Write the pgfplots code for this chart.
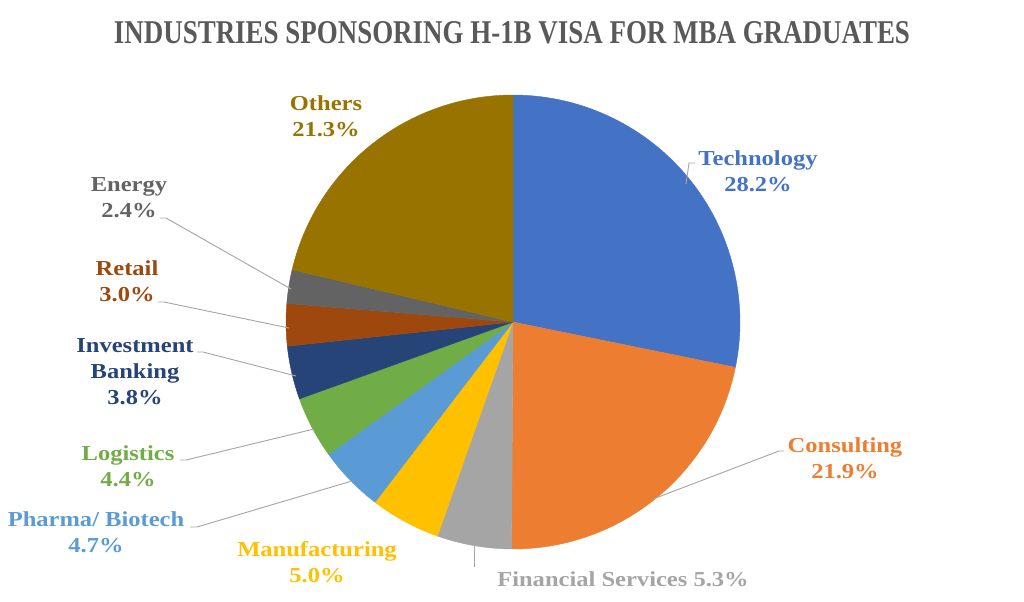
\documentclass[border=0pt]{standalone}
\usepackage{pgfplots}
\pgfplotsset{compat=1.18}
\usepackage{pgfplotstable}
\usepackage{fontspec}
\setmainfont[FakeStretch=1.15]{Liberation Serif}
\definecolor{cTech}{HTML}{4472C4}
\definecolor{cCons}{HTML}{ED7D31}
\definecolor{cFin}{HTML}{A5A5A5}
\definecolor{cMan}{HTML}{FFC000}
\definecolor{cPha}{HTML}{5B9BD5}
\definecolor{cLog}{HTML}{70AD47}
\definecolor{cInv}{HTML}{264478}
\definecolor{cRet}{HTML}{9E480E}
\definecolor{cEne}{HTML}{636363}
\definecolor{cOth}{HTML}{997300}
\definecolor{cTitle}{HTML}{595959}
\definecolor{cLead}{HTML}{A6A6A6}

\tikzset{
  lbl/.style={font=\fontsize{16}{19.5}\selectfont\bfseries, align=center, anchor=center},
  lead/.style={draw=cLead, line width=0.7pt},
}

\pgfplotstableread{
pct col
28.2 cTech
21.9 cCons
5.3 cFin
5.0 cMan
4.7 cPha
4.4 cLog
3.8 cInv
3.0 cRet
2.4 cEne
21.3 cOth
}\piedata

\begin{document}
\begin{tikzpicture}
\begin{axis}[
  hide axis, scale only axis,
  width=768pt, height=450.75pt,
  xmin=0, xmax=1024, ymin=0, ymax=601, y dir=reverse,
  clip=false,
]
\def\angA{90}
\pgfplotsforeachungrouped \i in {0,...,9}{%
  \pgfplotstablegetelem{\i}{pct}\of\piedata \let\slicepct\pgfplotsretval
  \pgfplotstablegetelem{\i}{col}\of\piedata \let\slicecol\pgfplotsretval
  \pgfmathsetmacro{\angB}{\angA-3.6*\slicepct}%
  \edef\slice{\noexpand\filldraw[fill=\slicecol, draw=\slicecol, line width=0.3pt, line join=round] (axis cs:513,322) -- ++(\angA:170.25pt) arc[start angle=\angA, end angle=\angB, radius=170.25pt] -- cycle;}%
  \slice
  \global\let\angA\angB
}

% title
\node[anchor=center, text=cTitle] at (axis cs:512,33)
  {\resizebox{597pt}{16.5pt}{\bfseries INDUSTRIES SPONSORING H-1B VISA FOR MBA GRADUATES}};

% leader lines
\draw[lead] (axis cs:695,163) -- (axis cs:689,163) -- (axis cs:686,184);
\draw[lead] (axis cs:784,451) -- (axis cs:779,451) -- (axis cs:653,499);
\draw[lead] (axis cs:474,546) -- (axis cs:474,567);
\draw[lead] (axis cs:190,527) -- (axis cs:197,527) -- (axis cs:352,481);
\draw[lead] (axis cs:180,460) -- (axis cs:186,460) -- (axis cs:314,429);
\draw[lead] (axis cs:197,352) -- (axis cs:203,352) -- (axis cs:296,376);
\draw[lead] (axis cs:158,302) -- (axis cs:164,302) -- (axis cs:289,328);
\draw[lead] (axis cs:160,218) -- (axis cs:166,218) -- (axis cs:291,289);

% labels
\node[lbl, text=cTech] at (axis cs:758,171) {Technology\\28.2\%};
\node[lbl, text=cCons] at (axis cs:845,458) {Consulting\\21.9\%};
\node[lbl, text=cFin] at (axis cs:623,579) {Financial Services 5.3\%};
\node[lbl, text=cMan] at (axis cs:317,562) {Manufacturing\\5.0\%};
\node[lbl, text=cPha] at (axis cs:96,532) {Pharma/ Biotech\\4.7\%};
\node[lbl, text=cLog] at (axis cs:128,466) {Logistics\\4.4\%};
\node[lbl, text=cInv] at (axis cs:135,372) {Investment\\Banking\\3.8\%};
\node[lbl, text=cRet] at (axis cs:127,281) {Retail\\3.0\%};
\node[lbl, text=cEne] at (axis cs:129,198) {Energy\\2.4\%};
\node[lbl, text=cOth] at (axis cs:326,116) {Others\\21.3\%};
\end{axis}
\pgfresetboundingbox
\path (current axis.south west) rectangle (current axis.north east);
\end{tikzpicture}
\end{document}
